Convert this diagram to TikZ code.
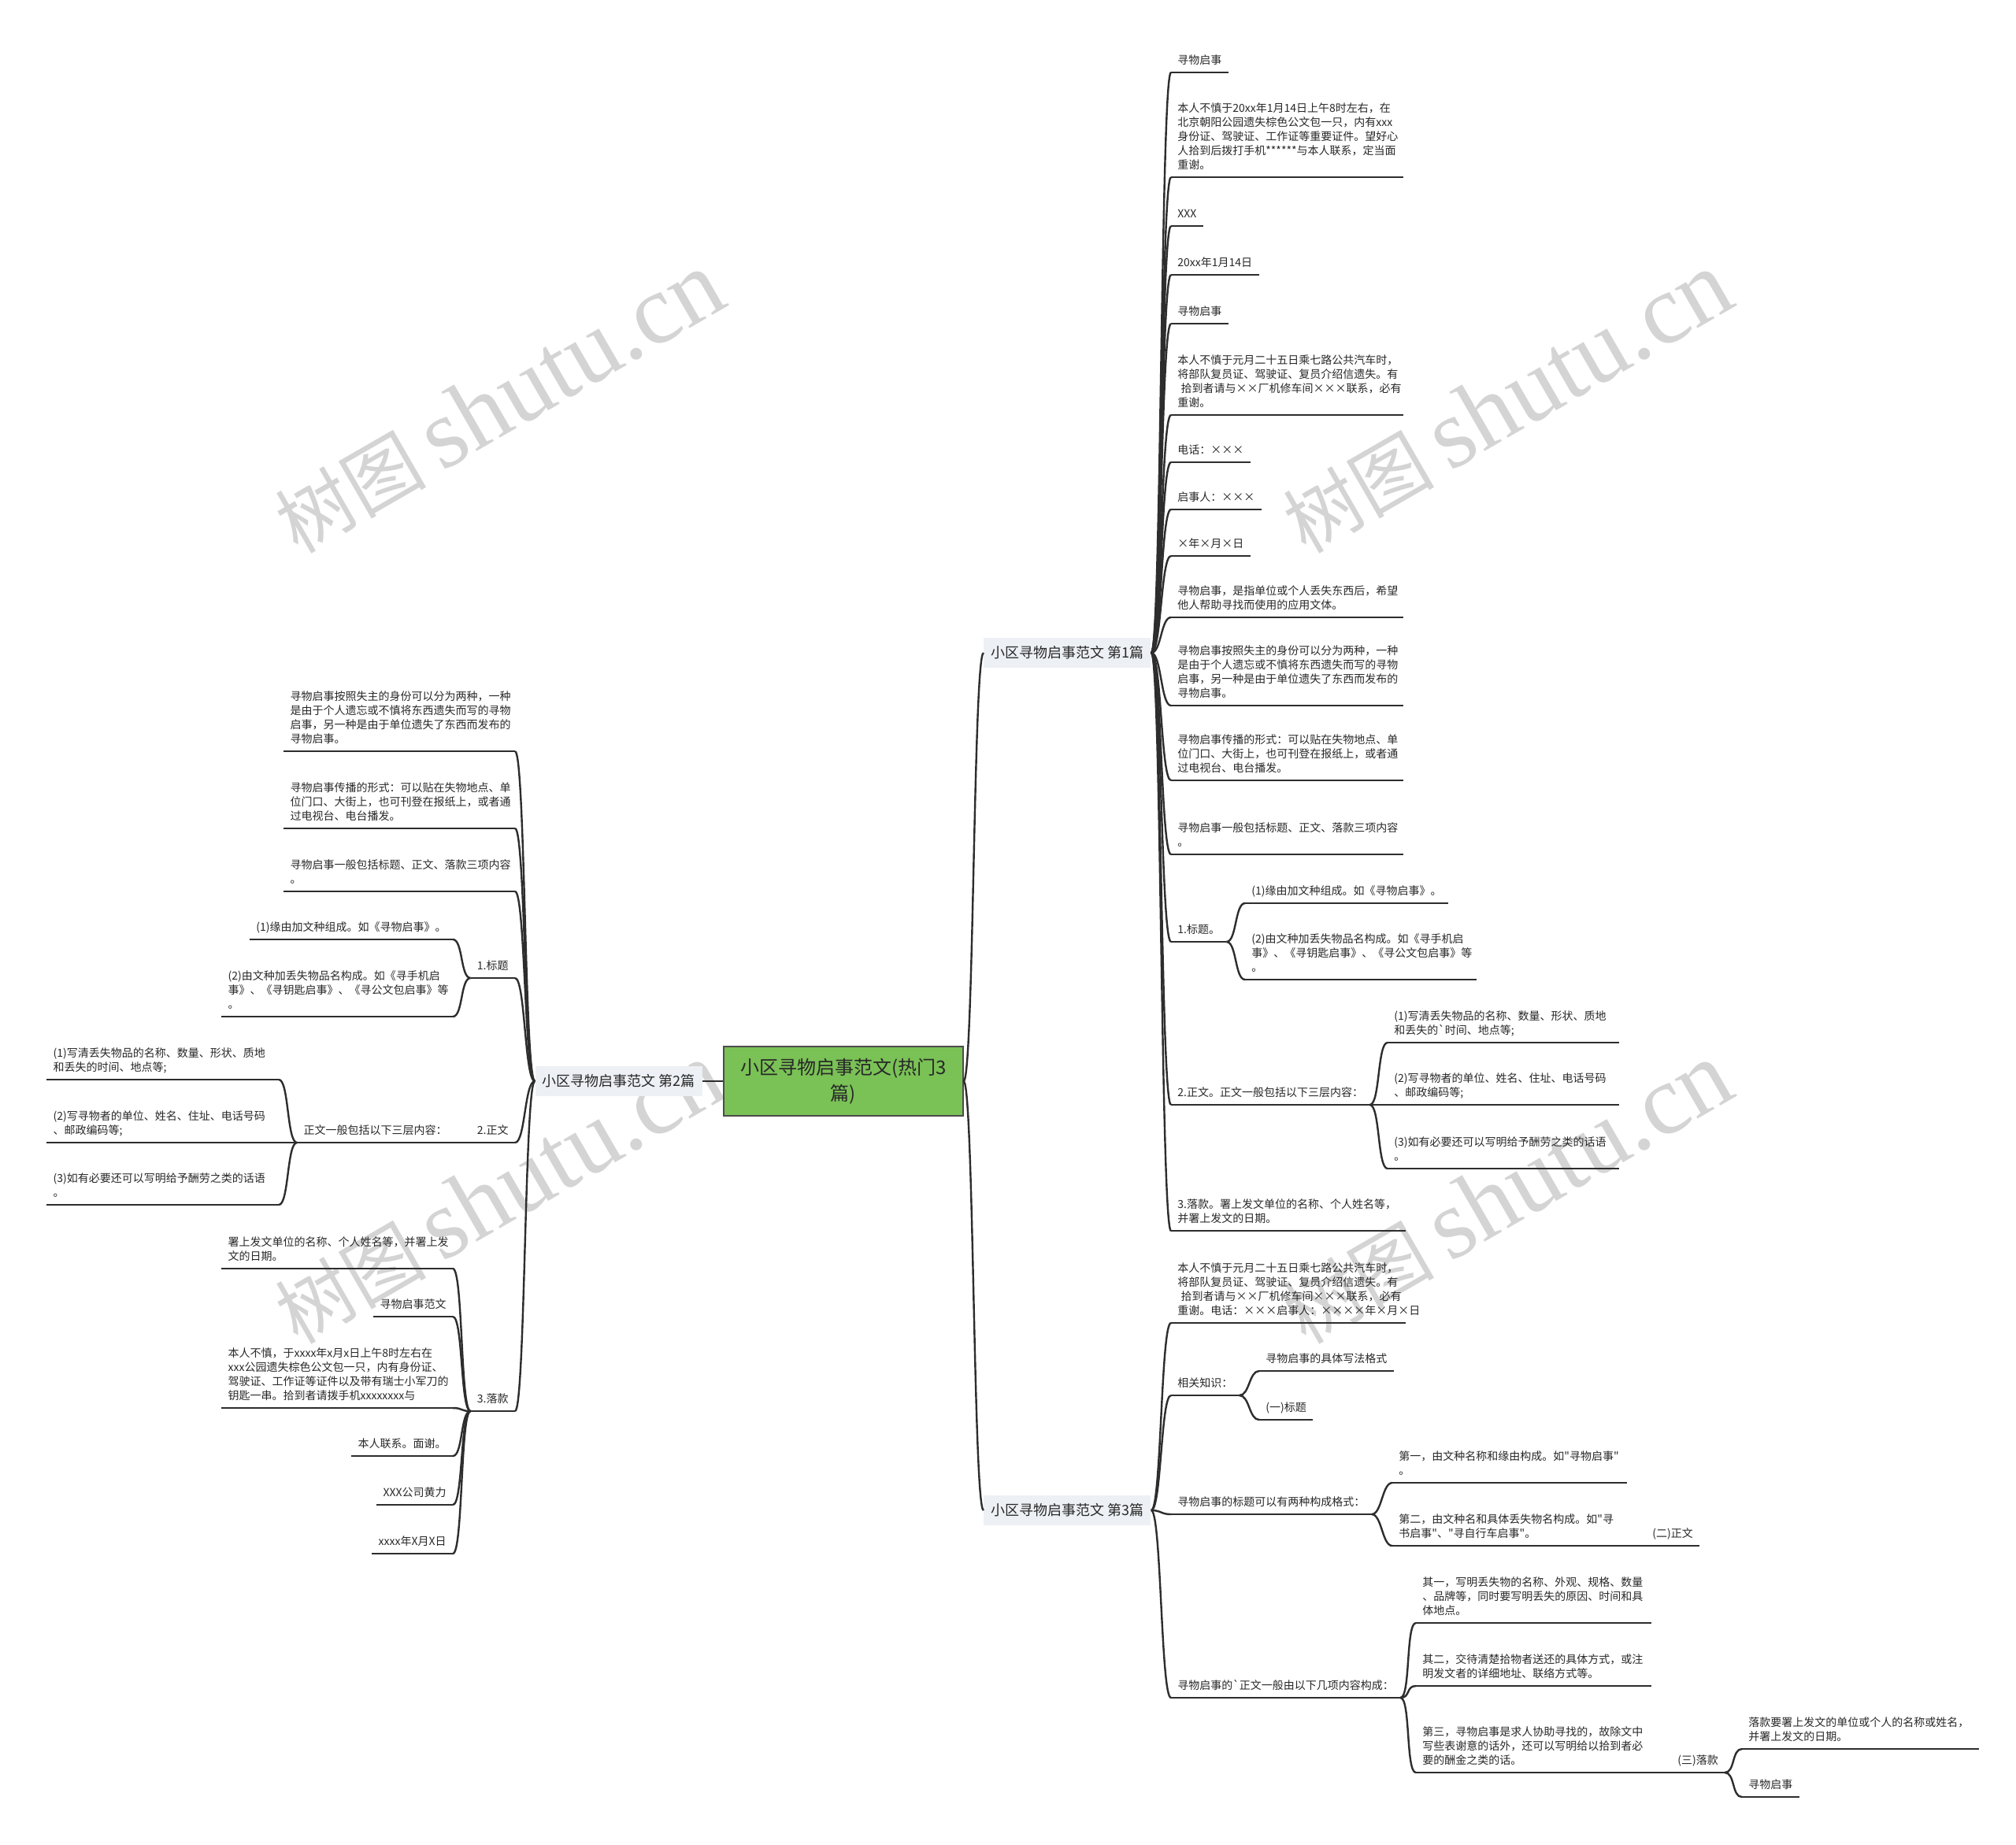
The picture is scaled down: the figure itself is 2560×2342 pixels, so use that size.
\documentclass[tikz,border=0pt]{standalone}
\usepackage{fontspec}
\setmainfont{Noto Sans CJK SC}
\newfontfamily\cjkmain{Noto Sans CJK SC}
\newfontfamily\wmlatin{Liberation Serif}
\definecolor{lineC}{RGB}{45,45,45}
\definecolor{txtC}{RGB}{40,40,40}
\definecolor{rootG}{RGB}{122,193,86}
\definecolor{branchBG}{RGB}{237,240,244}
\definecolor{wmC}{RGB}{212,212,212}
\newcommand\linkR[2]{\draw[conn] (#1) .. controls +(13,0) and +(-13,0) .. (#2);}
\newcommand\linkL[2]{\draw[conn] (#1) .. controls +(-13,0) and +(13,0) .. (#2);}
\newcommand\depthstrut{\rule[-1.7pt]{0pt}{1.7pt}}
\begin{document}
\begin{tikzpicture}[x=0.5pt,y=-0.5pt,
  conn/.style={draw=lineC, line width=1.2pt},
  uline/.style={draw=lineC, line width=1.1pt},
  leaf/.style={inner xsep=4pt, inner ysep=3.5pt, align=left,
    font=\cjkmain\fontsize{7}{9}\selectfont, text=txtC, execute at end node=\depthstrut},
  leafR/.style={leaf, anchor=south west},
  leafL/.style={leaf, anchor=south east},
  branch/.style={fill=branchBG, font=\cjkmain\fontsize{9}{11}\selectfont, inner xsep=4.5pt,
    minimum height=19pt, text=txtC},
  rootn/.style={fill=rootG, draw=lineC!85, line width=0.6pt,
    font=\cjkmain\fontsize{12}{16.5}\selectfont, align=center, text width=140pt,
    minimum width=152pt, minimum height=44pt, inner xsep=0pt, text=txtC},
  wmk/.style={rotate=30, anchor=base west, text=wmC, inner sep=0pt,
    font=\cjkmain\fontsize{48}{52}\selectfont}
]
\useasboundingbox (0,0) rectangle (2560,2342);
\fill[white] (0,0) rectangle (2560,2342);

% watermarks
\foreach \wx/\wy/\wn in {378/705/a, 1658/705/b, 378/1709/c, 1658/1709/d, 378/2713/e, 1658/2713/f}
  \node[wmk] (wm\wn) at (\wx,\wy) {树图\hspace{0.2em}{\wmlatin\fontsize{63}{63}\selectfont shutu.cn}};

% root and branches
\node[rootn] (root) at (1071,1373) {小区寻物启事范文(热门3\\篇)};
\node[branch, anchor=west] (b1) at (1249,829) {小区寻物启事范文 第1篇};
\node[branch, anchor=east] (b2) at (892,1373) {小区寻物启事范文 第2篇};
\node[branch, anchor=west] (b3) at (1249,1918) {小区寻物启事范文 第3篇};

% branch 1
\node[leafR] (r1) at (1487,92) {寻物启事};
\node[leafR, text width=139pt] (r2) at (1487,225) {本人不慎于20xx年1月14日上午8时左右，在\\北京朝阳公园遗失棕色公文包一只，内有xxx\\身份证、驾驶证、工作证等重要证件。望好心\\人拾到后拨打手机******与本人联系，定当面\\重谢。};
\node[leafR] (r3) at (1487,287) {XXX};
\node[leafR] (r4) at (1487,349) {20xx年1月14日};
\node[leafR] (r5) at (1487,411) {寻物启事};
\node[leafR, text width=139pt] (r6) at (1487,527) {本人不慎于元月二十五日乘七路公共汽车时，\\将部队复员证、驾驶证、复员介绍信遗失。有\\\hspace*{0.3em}拾到者请与××厂机修车间×××联系，必有\\重谢。};
\node[leafR] (r7) at (1487,587) {电话：×××};
\node[leafR] (r8) at (1487,647) {启事人：×××};
\node[leafR] (r9) at (1487,706) {×年×月×日};
\node[leafR, text width=139pt] (r10) at (1487,784) {寻物启事，是指单位或个人丢失东西后，希望\\他人帮助寻找而使用的应用文体。};
\node[leafR, text width=139pt] (r11) at (1487,896) {寻物启事按照失主的身份可以分为两种，一种\\是由于个人遗忘或不慎将东西遗失而写的寻物\\启事，另一种是由于单位遗失了东西而发布的\\寻物启事。};
\node[leafR, text width=139pt] (r12) at (1487,991) {寻物启事传播的形式：可以贴在失物地点、单\\位门口、大街上，也可刊登在报纸上，或者通\\过电视台、电台播发。};
\node[leafR, text width=139pt] (r13) at (1487,1085) {寻物启事一般包括标题、正文、落款三项内容\\。};
\node[leafR] (r14) at (1487,1196) {1.标题。};
\node[leafR] (r14a) at (1581,1147) {(1)缘由加文种组成。如《寻物启事》。};
\node[leafR, text width=138.5pt] (r14b) at (1581,1244) {(2)由文种加丢失物品名构成。如《寻手机启\\事》、《寻钥匙启事》、《寻公文包启事》等\\。};
\node[leafR] (r15) at (1487,1403) {2.正文。正文一般包括以下三层内容：};
\node[leafR, text width=138.5pt] (r15a) at (1762,1324) {(1)写清丢失物品的名称、数量、形状、质地\\和丢失的`时间、地点等;};
\node[leafR, text width=138.5pt] (r15b) at (1762,1403) {(2)写寻物者的单位、姓名、住址、电话号码\\、邮政编码等;};
\node[leafR, text width=138.5pt] (r15c) at (1762,1484) {(3)如有必要还可以写明给予酬劳之类的话语\\。};
\node[leafR, text width=140.5pt] (r16) at (1487,1563) {3.落款。署上发文单位的名称、个人姓名等，\\并署上发文的日期。};

% branch 3
\node[leafR, text width=140.5pt] (s1) at (1487,1680) {本人不慎于元月二十五日乘七路公共汽车时，\\将部队复员证、驾驶证、复员介绍信遗失。有\\\hspace*{0.3em}拾到者请与××厂机修车间×××联系，必有\\重谢。电话：×××启事人：××××年×月×日};
\node[leafR] (s2) at (1487,1772) {相关知识：};
\node[leafR] (s2a) at (1599,1741) {寻物启事的具体写法格式};
\node[leafR] (s2b) at (1599,1803) {(一)标题};
\node[leafR] (s3) at (1487,1923) {寻物启事的标题可以有两种构成格式：};
\node[leafR, text width=140.5pt] (s3a) at (1768,1883) {第一，由文种名称和缘由构成。如"寻物启事"\\。};
\node[leafR, text width=140.5pt] (s3b) at (1768,1963) {第二，由文种名和具体丢失物名构成。如"寻\\书启事"、"寻自行车启事"。};
\node[leafR] (s3b1) at (2090,1963) {(二)正文};
\node[leafR] (s4) at (1487,2156) {寻物启事的`正文一般由以下几项内容构成：};
\node[leafR, text width=141pt] (s4a) at (1798,2061) {其一，写明丢失物的名称、外观、规格、数量\\、品牌等，同时要写明丢失的原因、时间和具\\体地点。};
\node[leafR, text width=141pt] (s4b) at (1798,2141) {其二，交待清楚拾物者送还的具体方式，或注\\明发文者的详细地址、联络方式等。};
\node[leafR, text width=141pt] (s4c) at (1798,2251) {第三，寻物启事是求人协助寻找的，故除文中\\写些表谢意的话外，还可以写明给以拾到者必\\要的酬金之类的话。};
\node[leafR] (s4c1) at (2122,2251) {(三)落款};
\node[leafR, text width=142pt] (s4c1a) at (2212,2221) {落款要署上发文的单位或个人的名称或姓名，\\并署上发文的日期。};
\node[leafR] (s4c1b) at (2212,2282) {寻物启事};

% branch 2 (left)
\node[leafL, text width=138.5pt] (l1) at (654,954) {寻物启事按照失主的身份可以分为两种，一种\\是由于个人遗忘或不慎将东西遗失而写的寻物\\启事，另一种是由于单位遗失了东西而发布的\\寻物启事。};
\node[leafL, text width=138.5pt] (l2) at (654,1052) {寻物启事传播的形式：可以贴在失物地点、单\\位门口、大街上，也可刊登在报纸上，或者通\\过电视台、电台播发。};
\node[leafL, text width=138.5pt] (l3) at (654,1132) {寻物启事一般包括标题、正文、落款三项内容\\。};
\node[leafL] (l4) at (654,1242) {1.标题};
\node[leafL] (l4a) at (575,1193) {(1)缘由加文种组成。如《寻物启事》。};
\node[leafL, text width=138.5pt] (l4b) at (575,1291) {(2)由文种加丢失物品名构成。如《寻手机启\\事》、《寻钥匙启事》、《寻公文包启事》等\\。};
\node[leafL] (l5) at (654,1451) {2.正文};
\node[leafL] (l5a) at (576,1451) {正文一般包括以下三层内容：};
\node[leafL, text width=139pt] (l5a1) at (354,1371) {(1)写清丢失物品的名称、数量、形状、质地\\和丢失的时间、地点等;};
\node[leafL, text width=139pt] (l5a2) at (354,1451) {(2)写寻物者的单位、姓名、住址、电话号码\\、邮政编码等;};
\node[leafL, text width=139pt] (l5a3) at (354,1530) {(3)如有必要还可以写明给予酬劳之类的话语\\。};
\node[leafL] (l6) at (654,1792) {3.落款};
\node[leafL, text width=138.5pt] (l6a) at (575,1611) {署上发文单位的名称、个人姓名等，并署上发\\文的日期。};
\node[leafL] (l6b) at (575,1672) {寻物启事范文};
\node[leafL, text width=138.5pt] (l6c) at (575,1788) {本人不慎，于xxxx年x月x日上午8时左右在\\xxx公园遗失棕色公文包一只，内有身份证、\\驾驶证、工作证等证件以及带有瑞士小军刀的\\钥匙一串。拾到者请拨手机xxxxxxxx与};
\node[leafL] (l6d) at (575,1849) {本人联系。面谢。};
\node[leafL] (l6e) at (575,1911) {XXX公司黄力};
\node[leafL] (l6f) at (575,1973) {xxxx年X月X日};

% underlines
\foreach \n in {r1,r2,r3,r4,r5,r6,r7,r8,r9,r10,r11,r12,r13,r14,r14a,r14b,r15,r15a,r15b,r15c,r16,
  s1,s2,s2a,s2b,s3,s3a,s3b,s3b1,s4,s4a,s4b,s4c,s4c1,s4c1a,s4c1b,
  l1,l2,l3,l4,l4a,l4b,l5,l5a,l5a1,l5a2,l5a3,l6,l6a,l6b,l6c,l6d,l6e,l6f}
  \draw[uline] (\n.south west) -- (\n.south east);

% connectors
\draw[conn] (root.west) -- (b2.east);
\linkR{root.east}{b1.west}
\linkR{root.east}{b3.west}
\foreach \n in {r1,r2,r3,r4,r5,r6,r7,r8,r9,r10,r11,r12,r13,r14,r15,r16}
  {\linkR{b1.east}{\n.south west}}
\linkR{r14.south east}{r14a.south west}
\linkR{r14.south east}{r14b.south west}
\foreach \n in {r15a,r15b,r15c} {\linkR{r15.south east}{\n.south west}}
\foreach \n in {s1,s2,s3,s4} {\linkR{b3.east}{\n.south west}}
\linkR{s2.south east}{s2a.south west}
\linkR{s2.south east}{s2b.south west}
\linkR{s3.south east}{s3a.south west}
\linkR{s3.south east}{s3b.south west}
\linkR{s3b.south east}{s3b1.south west}
\foreach \n in {s4a,s4b,s4c} {\linkR{s4.south east}{\n.south west}}
\linkR{s4c.south east}{s4c1.south west}
\linkR{s4c1.south east}{s4c1a.south west}
\linkR{s4c1.south east}{s4c1b.south west}
\foreach \n in {l1,l2,l3,l4,l5,l6} {\linkL{b2.west}{\n.south east}}
\linkL{l4.south west}{l4a.south east}
\linkL{l4.south west}{l4b.south east}
\linkL{l5.south west}{l5a.south east}
\foreach \n in {l5a1,l5a2,l5a3} {\linkL{l5a.south west}{\n.south east}}
\foreach \n in {l6a,l6b,l6c,l6d,l6e,l6f} {\linkL{l6.south west}{\n.south east}}
\end{tikzpicture}
\end{document}
